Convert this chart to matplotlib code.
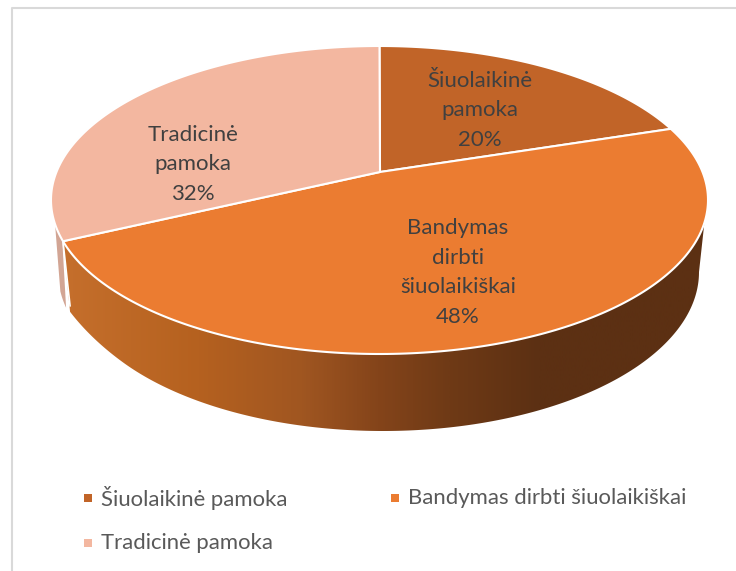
import matplotlib
matplotlib.use("Agg")
import matplotlib.pyplot as plt
import numpy as np
from matplotlib.colors import LinearSegmentedColormap
from matplotlib.patches import Polygon

labels = ["Šiuolaikinė pamoka", "Bandymas dirbti šiuolaikiškai", "Tradicinė pamoka"]
wrapped = ["Šiuolaikinė\npamoka", "Bandymas\ndirbti\nšiuolaikiškai", "Tradicinė\npamoka"]
shares = [20, 48, 32]
colors = ["#C16428", "#EB7C31", "#F3B7A0"]

plt.rcParams["font.family"] = ["Lato", "DejaVu Sans"]

# everything in reference pixels, y pointing down
W, H = 736, 571
CX, CY, RX, RY = 379.5, 200, 328.5, 154
APEX = (380, 172)  # the tilted pie's centre sits above the ellipse centre
BX, BY, BRX, BRY = 383, 272, 316, 159
PERSP = 0.835


def to_param(theta):
    # theta clockwise from 12 o'clock -> ellipse parameter, squeezed for the perspective
    return 2 * np.arctan2(PERSP * np.sin(theta / 2), np.cos(theta / 2)) % (2 * np.pi)


def top_pt(t):
    return CX + RX * np.sin(t), CY - RY * np.cos(t)


def bot_pt(t, dx=0):
    return BX + dx + BRX * np.sin(t), BY - BRY * np.cos(t)


def gradient_wall(ax, x, y, cmap, xlim):
    poly = Polygon(np.column_stack([x, y]), closed=True, transform=ax.transData, fc="none", ec="none")
    ax.add_patch(poly)
    img = ax.imshow(np.linspace(0, 1, 600)[None, :], extent=(xlim[0], xlim[1], H, 0), cmap=cmap,
                    aspect="auto", zorder=1, vmin=0, vmax=1, interpolation="bilinear")
    img.set_clip_path(poly)


fig = plt.figure(figsize=(W / 100, H / 100), dpi=100)
ax = fig.add_axes([0, 0, 1, 1])

bounds = np.radians(np.cumsum([0] + shares) * 3.6)
left_t = to_param(bounds[2])

# side wall of the big slice, right end follows the silhouette and not the slice edge
wall_cmap = LinearSegmentedColormap.from_list("wall", [
    (0.0, "#C56F2C"), (0.21, "#B5611F"), (0.37, "#A05621"), (0.49, "#84441A"),
    (0.60, "#6F3A16"), (0.74, "#5C3013"), (1.0, "#5C3013")])
tx, ty = top_pt(np.linspace(np.radians(98.5), left_t, 300))
bt = np.linspace(np.radians(90), np.radians(255.5), 300)
# bottom edge flares out a little towards the left corner
flare = -7 * np.clip((bt - np.radians(235)) / np.radians(20.5), 0, 1) ** 2
bx, by = bot_pt(bt, dx=flare)
gradient_wall(ax, np.r_[tx, bx[::-1]], np.r_[ty, by[::-1]], wall_cmap, (62, 708))

# sliver of the pink slice behind it
sx, sy = top_pt(np.linspace(left_t + np.radians(0.5), np.radians(261), 30))
ex, ey = bot_pt(np.linspace(np.radians(263), np.radians(257), 30), dx=-9)
ax.fill(np.r_[sx, ex], np.r_[sy, ey], color="#D2A594", lw=0, zorder=1)
ax.plot([tx[-1], bx[-1]], [ty[-1], by[-1] - 6], color="white", lw=1.2, zorder=1.5)

# top face
for i in range(3):
    x, y = top_pt(to_param(np.linspace(bounds[i], bounds[i + 1], 200)))
    ax.fill(np.r_[APEX[0], x], np.r_[APEX[1], y], fc=colors[i], ec="white", lw=1.5, zorder=2, joinstyle="round")

# data labels
label_pos = [(480, 110.5), (458, 272.5), (193, 164.5)]
for name, share, (lx, ly) in zip(wrapped, shares, label_pos):
    ax.text(lx, ly, f"{name}\n{share}%", ha="center", va="center", fontsize=16, color="#404040",
            linespacing=1.6, zorder=3)

# legend
legend_pos = [(88, 498), (395, 498), (88, 543)]
for name, col, (lx, ly) in zip(labels, colors, legend_pos):
    ax.scatter([lx], [ly], marker="s", s=33, color=col, lw=0, zorder=3)
    ax.text(lx + 13, ly, name, ha="left", va="center", fontsize=15.9, color="#595959")

# chart frame, cropped on the right and the bottom
ax.plot([12, 12, W], [H, 7.5, 7.5], color="#D9D9D9", lw=1.5, zorder=0)

ax.set_xlim(0, W)
ax.set_ylim(H, 0)
ax.axis("off")
fig.savefig("out.png", dpi=100)
